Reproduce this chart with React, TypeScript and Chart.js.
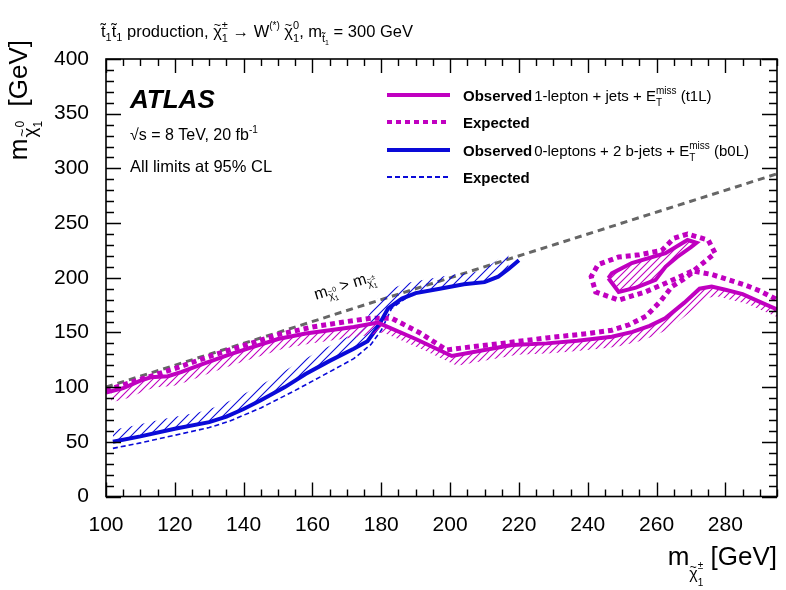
import React, { useEffect, useRef } from 'react';
import { Chart, registerables } from 'chart.js';
Chart.register(...registerables);

// ---------- data ----------
const xTicks = [100, 120, 140, 160, 180, 200, 220, 240, 260, 280];
const yTicks = [0, 50, 100, 150, 200, 250, 300, 350, 400];

const kinX = [100, 295];
const kinY = [100, 295];

const t1lObsX = [100, 105, 110, 113, 118, 122, 128, 136, 143, 150, 158, 165, 172, 179, 190, 200.5, 210, 218, 228, 237, 247, 253, 258, 262.5, 268, 272.5, 276, 280, 285, 290, 295];
const t1lObsY = [95, 99, 106, 109, 110, 114, 121, 130, 137, 144, 149, 152, 155, 159, 144, 128.5, 134, 138.5, 140, 142.5, 146, 150.5, 156, 163, 177, 190, 192, 189, 185, 178, 171];

const t1lExpX = [100, 105, 110, 115, 120, 130, 140, 150, 160, 170, 177, 183, 191, 199, 204, 215, 228, 240, 247, 252, 257, 261, 264.5, 268, 271, 276, 281, 286, 290, 295];
const t1lExpY = [97, 102, 107, 112, 117, 128, 138, 148, 155, 160, 163, 163, 150, 134, 136, 140, 145, 149, 152, 157, 165, 178, 192, 199, 206, 203, 198, 193, 188, 180];

const t1lIslandObsX = [246, 249, 254, 259.7, 262.6, 266, 270, 271.6, 269, 262.6, 252.8, 247, 246];
const t1lIslandObsY = [199.6, 187, 191, 198, 210, 219, 228, 232, 234.5, 222.5, 213.4, 204, 199.6];

const t1lIslandExpX = [271, 277, 275, 269, 265, 261.5, 255, 249, 243, 241, 242.3, 249, 256.7, 262.6, 271];
const t1lIslandExpY = [207, 222.5, 234.5, 240, 236, 225, 221, 219, 212, 201, 187, 179.6, 187, 195, 207];

const b0lObsX = [102, 110, 120, 130, 135, 140, 145, 152, 158, 165, 172, 176, 179, 182, 186, 190, 197, 204, 210, 214, 217, 220];
const b0lObsY = [50, 55, 62, 68, 73, 80, 88, 100, 112, 124, 135, 142, 155, 172, 181, 186, 190, 194, 196, 201, 208, 216];

const b0lExpX = [102, 110, 120, 130, 136, 145, 155, 165, 172, 177, 180, 183, 187, 190, 197, 204, 210, 214, 217, 220];
const b0lExpY = [44, 49, 56, 63, 69, 81, 97, 114, 126, 139, 152, 172, 181, 186, 190, 194, 196, 201, 208, 216];

// ---------- styles ----------
const MAG = '#c000c0';
const BLUE = '#0a0ad8';
const GRAY = '#666666';
const FAM = '"Liberation Sans", Arial, Helvetica, sans-serif';
const TT = 't\u0303';

const zip = (xs: number[], ys: number[]) => xs.map((x, i) => ({ x, y: ys[i] }));
const shift = (pts: { x: number; y: number }[], dx: number, dy: number) => pts.map(p => ({ x: p.x + dx, y: p.y + dy }));

function hatch(color: string, s = 7, lw = 1.1) {
  const c = document.createElement('canvas');
  c.width = s; c.height = s;
  const g = c.getContext('2d')!;
  g.strokeStyle = color;
  g.lineWidth = lw;
  g.beginPath();
  g.moveTo(0, s); g.lineTo(s, 0);
  g.moveTo(-s / 2, s / 2); g.lineTo(s / 2, -s / 2);
  g.moveTo(s / 2, s * 1.5); g.lineTo(s * 1.5, s / 2);
  g.stroke();
  return g.createPattern(c, 'repeat')!;
}

type Part = { t: string; s: number; dy?: number; b?: boolean; i?: boolean; over?: boolean; dx?: number };
const fnt = (p: Part) => `${p.i ? 'italic ' : ''}${p.b ? 'bold ' : ''}${p.s}px ${FAM}`;
const chi = (s: number, dy = 0): Part[] => [
  { t: '\u03C7', s, dy },
  { t: '~', s: s * 0.75, dy: dy - s * 0.5, over: true, dx: s * 0.03 },
];

function layout(ctx: CanvasRenderingContext2D, parts: Part[]) {
  let cursor = 0, prevStart = 0;
  const pos: number[] = [];
  for (const p of parts) {
    ctx.font = fnt(p);
    const w = ctx.measureText(p.t).width;
    const start = (p.over ? prevStart : cursor) + (p.dx || 0);
    pos.push(start);
    cursor = Math.max(cursor, start + w);
    prevStart = p.over ? prevStart : start;
  }
  return { pos, width: cursor };
}

function drawRich(ctx: CanvasRenderingContext2D, parts: Part[], x: number, y: number, align: 'left' | 'right' = 'left') {
  const { pos, width } = layout(ctx, parts);
  const x0 = align === 'right' ? x - width : x;
  ctx.textAlign = 'left';
  ctx.textBaseline = 'alphabetic';
  parts.forEach((p, i) => {
    ctx.font = fnt(p);
    ctx.fillText(p.t, x0 + pos[i], y + (p.dy || 0));
  });
  return width;
}

const decor = {
  id: 'decor',
  afterDraw(chart: any) {
    const ctx: CanvasRenderingContext2D = chart.ctx;
    const { left, right, top, bottom } = chart.chartArea;
    const xs = chart.scales.x, ys = chart.scales.y;
    ctx.save();
    ctx.strokeStyle = '#000';
    ctx.fillStyle = '#000';
    ctx.lineWidth = 1.6;
    ctx.strokeRect(left, top, right - left, bottom - top);
    ctx.lineWidth = 1.4;
    ctx.beginPath();
    for (let v = 100; v <= 295; v += 5) {
      const px = Math.round(xs.getPixelForValue(v)) + 0.5;
      const len = v % 20 === 0 ? 14 : 7;
      ctx.moveTo(px, bottom); ctx.lineTo(px, bottom - len);
      ctx.moveTo(px, top); ctx.lineTo(px, top + len);
    }
    for (let v = 0; v <= 400; v += 10) {
      const py = Math.round(ys.getPixelForValue(v)) + 0.5;
      const len = v % 50 === 0 ? 15 : 8;
      ctx.moveTo(left, py); ctx.lineTo(left + len, py);
      ctx.moveTo(right, py); ctx.lineTo(right - len, py);
    }
    ctx.stroke();

    // title
    const T = 16.5, TS = 11;
    drawRich(ctx, [
      { t: TT, s: T }, { t: '1', s: TS, dy: 4 }, { t: TT, s: T }, { t: '1', s: TS, dy: 4 },
      { t: ' production, ', s: T }, ...chi(T), { t: '\u00B1', s: TS, dy: -8 }, { t: '1', s: TS, dy: 5, over: true },
      { t: ' \u2192 W', s: T }, { t: '(*)', s: 10, dy: -8 }, { t: ' ', s: T }, ...chi(T), { t: '0', s: TS, dy: -8 }, { t: '1', s: TS, dy: 5, over: true },
      { t: ', m', s: T }, { t: TT, s: 11, dy: 5 }, { t: '1', s: 7, dy: 8 }, { t: ' = 300 GeV', s: T },
    ], 101, 37);

    // ATLAS block
    drawRich(ctx, [{ t: 'ATLAS', s: 26, b: true, i: true }], 130, 108);
    drawRich(ctx, [{ t: '\u221As = 8 TeV, 20 fb', s: 16 }, { t: '-1', s: 10, dy: -7 }], 130, 140);
    drawRich(ctx, [{ t: 'All limits at 95% CL', s: 16.5 }], 130, 172);

    // legend
    const L = 15;
    const rows: { y: number; color: string; w: number; dash: number[]; label: Part[] }[] = [
      { y: 95, color: MAG, w: 4, dash: [], label: [{ t: 'Observed', s: L, b: true }, { t: '1-lepton + jets + E', s: L, dx: 2 }, { t: 'miss', s: 10, dy: -7 }, { t: 'T', s: 10, dy: 5, over: true }, { t: ' (t1L)', s: L }] },
      { y: 122, color: MAG, w: 4, dash: [5, 4], label: [{ t: 'Expected', s: L, b: true }] },
      { y: 150, color: BLUE, w: 4, dash: [], label: [{ t: 'Observed', s: L, b: true }, { t: '0-leptons + 2 b-jets + E', s: L, dx: 2 }, { t: 'miss', s: 10, dy: -7 }, { t: 'T', s: 10, dy: 5, over: true }, { t: ' (b0L)', s: L }] },
      { y: 177, color: BLUE, w: 2, dash: [5, 3], label: [{ t: 'Expected', s: L, b: true }] },
    ];
    for (const r of rows) {
      ctx.save();
      ctx.strokeStyle = r.color;
      ctx.lineWidth = r.w;
      ctx.setLineDash(r.dash);
      ctx.beginPath();
      ctx.moveTo(387, r.y); ctx.lineTo(450, r.y);
      ctx.stroke();
      ctx.restore();
      drawRich(ctx, r.label, 463, r.y + 5.5);
    }

    // axis titles
    drawRich(ctx, [
      { t: 'm', s: 26 }, ...chi(16, 14), { t: '\u00B1', s: 10, dy: 4 }, { t: '1', s: 10, dy: 21, over: true }, { t: ' [GeV]', s: 26 },
    ], 777, 565, 'right');

    ctx.save();
    const yParts: Part[] = [
      { t: 'm', s: 26 }, { t: ' ', s: 4 }, ...chi(19, 9), { t: '0', s: 12, dy: -3 }, { t: '1', s: 12, dy: 15, over: true }, { t: '  [GeV]', s: 26 },
    ];
    const yl = layout(ctx, yParts);
    ctx.translate(27, 40 + yl.width);
    ctx.rotate(-Math.PI / 2);
    drawRich(ctx, yParts, 0, 0);
    ctx.restore();

    // kinematic label
    const p1x = xs.getPixelForValue(kinX[0]), p1y = ys.getPixelForValue(kinY[0]);
    const p2x = xs.getPixelForValue(kinX[1]), p2y = ys.getPixelForValue(kinY[1]);
    const ang = Math.atan2(p2y - p1y, p2x - p1x);
    ctx.save();
    ctx.translate(xs.getPixelForValue(161), ys.getPixelForValue(180));
    ctx.rotate(ang);
    drawRich(ctx, [
      { t: 'm', s: 16 }, ...chi(10, 4), { t: '0', s: 7, dy: -2 }, { t: '1', s: 7, dy: 7, over: true },
      { t: ' > m', s: 16 }, ...chi(10, 4), { t: '\u00B1', s: 7, dy: -2 }, { t: '1', s: 7, dy: 7, over: true },
    ], 0, 0);
    ctx.restore();
    ctx.restore();
  },
};

export default function App() {
  const ref = useRef<HTMLCanvasElement>(null);
  useEffect(() => {
    const magHatch = hatch(MAG, 7, 1.1);
    const blueHatch = hatch(BLUE, 9, 1.1);
    const t1lObs = zip(t1lObsX, t1lObsY);
    const b0lObs = zip(b0lObsX, b0lObsY);
    const hidden = { borderWidth: 0, pointRadius: 0, fill: false, borderColor: 'rgba(0,0,0,0)' };
    const chart = new Chart(ref.current!, {
      type: 'line',
      data: {
        datasets: [
          { data: t1lObs, borderColor: MAG, borderWidth: 4, pointRadius: 0, fill: 6, backgroundColor: magHatch, order: 0 } as any,
          { data: zip(t1lIslandObsX, t1lIslandObsY), borderColor: MAG, borderWidth: 4, pointRadius: 0, fill: 'shape', backgroundColor: magHatch, order: 1 } as any,
          { data: b0lObs, borderColor: BLUE, borderWidth: 4, pointRadius: 0, fill: 7, backgroundColor: blueHatch, order: 2 } as any,
          { data: zip(t1lExpX, t1lExpY), borderColor: MAG, borderWidth: 5, borderDash: [5, 4], pointRadius: 0, fill: false, order: 3 } as any,
          { data: zip(t1lIslandExpX, t1lIslandExpY), borderColor: MAG, borderWidth: 5, borderDash: [5, 4], pointRadius: 0, fill: false, order: 4 } as any,
          { data: zip(b0lExpX, b0lExpY), borderColor: BLUE, borderWidth: 1.6, borderDash: [5, 3], pointRadius: 0, fill: false, order: 5 } as any,
          { data: shift(t1lObs, 1.5, -9), ...hidden, order: 10 } as any,
          { data: shift(b0lObs, -3, 9), ...hidden, order: 11 } as any,
          { data: zip(kinX, kinY), borderColor: GRAY, borderWidth: 3, borderDash: [7, 5], pointRadius: 0, fill: false, order: 6 } as any,
        ],
      },
      options: {
        responsive: false,
        animation: false,
        events: [],
        layout: { padding: { top: 59, right: 9, left: 0, bottom: 0 } },
        plugins: { legend: { display: false }, tooltip: { enabled: false }, title: { display: false } },
        scales: {
          x: {
            type: 'linear', min: 100, max: 295,
            afterBuildTicks: (s: any) => { s.ticks = xTicks.map(v => ({ value: v })); },
            afterFit: (s: any) => { s.height = 93.5; },
            ticks: { font: { size: 21, family: FAM }, color: '#000', padding: 8, maxRotation: 0, autoSkip: false },
            grid: { display: false },
            border: { display: false },
          },
          y: {
            type: 'linear', min: 0, max: 400,
            afterBuildTicks: (s: any) => { s.ticks = yTicks.map(v => ({ value: v })); },
            afterFit: (s: any) => { s.width = 106; },
            ticks: { font: { size: 21, family: FAM }, color: '#000', padding: 9, autoSkip: false },
            grid: { display: false },
            border: { display: false },
          },
        },
      } as any,
      plugins: [decor],
    });
    return () => chart.destroy();
  }, []);
  return (
    <div style={{ position: 'fixed', left: 0, top: 0, width: 786, height: 590, background: '#fff' }}>
      <canvas ref={ref} width={786} height={590} />
    </div>
  );
}
